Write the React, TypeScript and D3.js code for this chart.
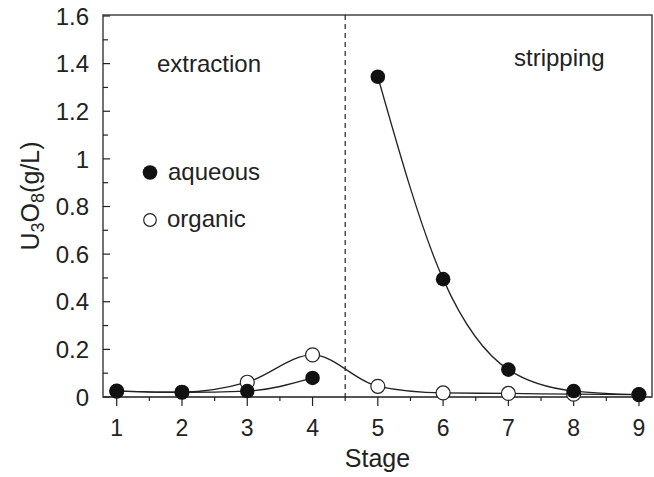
import React from "react";
import * as d3 from "d3";

const stages = [1, 2, 3, 4, 5, 6, 7, 8, 9];
const aqueousExtraction = [0.025, 0.02, 0.025, 0.08];
const aqueousStripping = [1.345, 0.495, 0.115, 0.025, 0.01];
const organic = [0.025, 0.02, 0.062, 0.177, 0.045, 0.017, 0.015, 0.012, 0.01];
const yTicks = [0, 0.2, 0.4, 0.6, 0.8, 1, 1.2, 1.4, 1.6];

const W = 654;
const H = 477;
const left = 103;
const right = 652;
const top = 15;
const bottom = 397;
const font = "Arial, 'Liberation Sans', Helvetica, sans-serif";
const ink = "#222";

export default function App() {
  const x = d3.scaleLinear().domain([0.79, 9.2]).range([left, right]);
  const y = d3.scaleLinear().domain([0, 1.6]).range([bottom, 16]);

  const line = d3
    .line<[number, number]>()
    .x((d) => x(d[0]))
    .y((d) => y(d[1]))
    .curve(d3.curveMonotoneX);

  const aqExt: [number, number][] = aqueousExtraction.map((v, i) => [stages[i], v]);
  const aqStr: [number, number][] = aqueousStripping.map((v, i) => [stages[i + 4], v]);
  const org: [number, number][] = organic.map((v, i) => [stages[i], v]);
  const aqAll = [...aqExt, ...aqStr];

  const yMinor = d3.range(0.1, 1.6, 0.2);
  const xMinor = d3.range(1.5, 9, 1);

  return (
    <div style={{ position: "fixed", left: 0, top: 0 }}>
      <svg width={W} height={H} style={{ display: "block", background: "#fff" }}>
        {/* frame */}
        <rect
          x={left}
          y={top}
          width={right - left}
          height={bottom - top}
          fill="none"
          stroke="#444"
          strokeWidth={1.5}
        />
        <line x1={left} x2={right} y1={bottom} y2={bottom} stroke="#555" strokeWidth={2.2} />

        {/* y ticks, inward */}
        {yTicks.map((t) => (
          <g key={"y" + t}>
            <line x1={left} x2={left + 7} y1={y(t)} y2={y(t)} stroke={ink} strokeWidth={1.2} />
            <text
              x={89}
              y={y(t)}
              dy="0.36em"
              textAnchor="end"
              fontFamily={font}
              fontSize={24}
              fill={ink}
            >
              {t}
            </text>
          </g>
        ))}
        {yMinor.map((t) => (
          <line key={"ym" + t} x1={left} x2={left + 5} y1={y(t)} y2={y(t)} stroke={ink} strokeWidth={1.2} />
        ))}

        {/* x ticks, outward */}
        {stages.map((s) => (
          <g key={"x" + s}>
            <line x1={x(s)} x2={x(s)} y1={bottom} y2={bottom + 9} stroke={ink} strokeWidth={1.2} />
            <text x={x(s)} y={436} textAnchor="middle" fontFamily={font} fontSize={23} fill={ink}>
              {s}
            </text>
          </g>
        ))}
        {xMinor.map((s) => (
          <line key={"xm" + s} x1={x(s)} x2={x(s)} y1={bottom} y2={bottom + 4} stroke={ink} strokeWidth={1.2} />
        ))}

        {/* axis titles */}
        <text
          x={(left + right) / 2}
          y={467}
          textAnchor="middle"
          fontFamily={font}
          fontSize={25}
          fill={ink}
        >
          Stage
        </text>
        <text
          transform={`translate(39,196) rotate(-90)`}
          textAnchor="middle"
          fontFamily={font}
          fontSize={25}
          fill={ink}
        >
          U<tspan fontSize={18} dy={5}>3</tspan>
          <tspan dy={-5}>O</tspan>
          <tspan fontSize={18} dy={5}>8</tspan>
          <tspan dy={-5}>(g/L)</tspan>
        </text>

        {/* divider between extraction and stripping */}
        <line
          x1={x(4.5)}
          x2={x(4.5)}
          y1={top}
          y2={bottom}
          stroke={ink}
          strokeWidth={1.2}
          strokeDasharray="5,4"
        />

        <text x={157} y={72} fontFamily={font} fontSize={24} fill={ink}>
          extraction
        </text>
        <text x={514} y={66} fontFamily={font} fontSize={24} fill={ink}>
          stripping
        </text>

        {/* curves */}
        <path d={line(org) ?? ""} fill="none" stroke={ink} strokeWidth={1.3} />
        <path d={line(aqExt) ?? ""} fill="none" stroke={ink} strokeWidth={1.3} />
        <path d={line(aqStr) ?? ""} fill="none" stroke={ink} strokeWidth={1.3} />

        {org.map((d) => (
          <circle key={"o" + d[0]} cx={x(d[0])} cy={y(d[1])} r={7} fill="#fff" stroke={ink} strokeWidth={1.2} />
        ))}
        {aqAll.map((d) => (
          <circle key={"a" + d[0]} cx={x(d[0])} cy={y(d[1])} r={7.3} fill="#111" />
        ))}

        {/* legend */}
        <circle cx={150} cy={172.5} r={7.3} fill="#111" />
        <text x={168} y={180} fontFamily={font} fontSize={24} fill={ink}>
          aqueous
        </text>
        <circle cx={150} cy={220} r={6.3} fill="#fff" stroke={ink} strokeWidth={1.2} />
        <text x={167} y={227} fontFamily={font} fontSize={24} fill={ink}>
          organic
        </text>
      </svg>
    </div>
  );
}
